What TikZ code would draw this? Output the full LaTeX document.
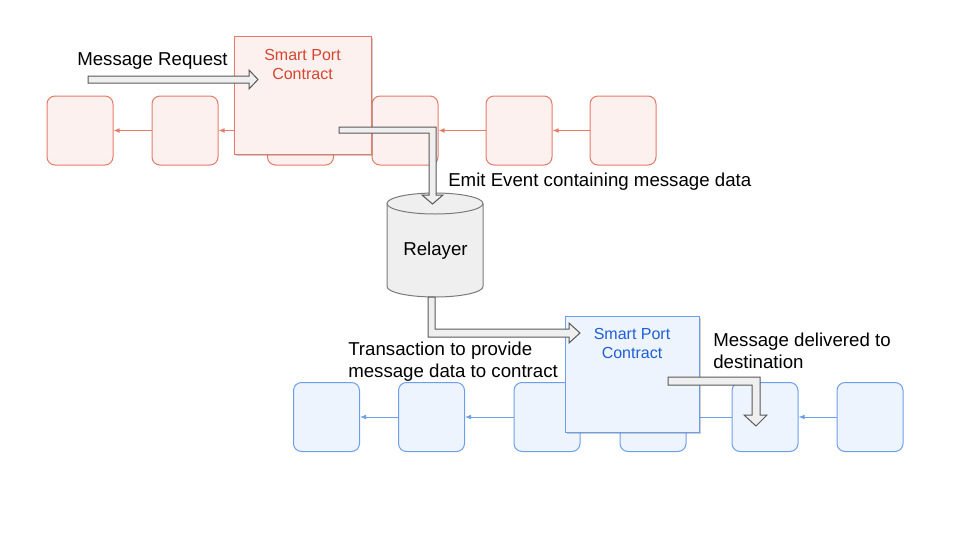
\documentclass[tikz,border=0pt]{standalone}
\usepackage{fontspec}
\setmainfont{Liberation Sans}
\usetikzlibrary{arrows.meta,shadows}
\definecolor{redline}{HTML}{E57A68}
\definecolor{redfill}{HTML}{FDF1F0}
\definecolor{redtext}{HTML}{D6452F}
\definecolor{blueline}{HTML}{6D9EEB}
\definecolor{bluefill}{HTML}{EEF4FD}
\definecolor{bluetext}{HTML}{1F5FD6}
\definecolor{fatfill}{HTML}{EFEFEF}
\definecolor{fatline}{HTML}{595959}
\begin{document}
\begin{tikzpicture}[x=0.75pt,y=-0.75pt,
    block/.style={rounded corners=6pt,line width=0.75pt,minimum width=49.5pt,minimum height=51.75pt,inner sep=0pt},
    redblk/.style={block,draw=redline,fill=redfill},
    blueblk/.style={block,draw=blueline,fill=bluefill},
    link/.style={line width=0.6pt,-{Latex[length=4.5pt,width=3.5pt]}},
    contract/.style={line width=0.75pt,inner sep=0pt,drop shadow={opacity=0.4,shadow xshift=1.5pt,shadow yshift=-1.5pt}},
    ctext/.style={font=\fontsize{12}{14}\selectfont,align=center,anchor=north,inner sep=0pt},
    lbl/.style={font=\fontsize{14}{16.3}\selectfont,align=left,inner sep=0pt},
    fat/.style={draw=fatline,fill=fatfill,line width=0.75pt,line join=miter}]
    \useasboundingbox (0,0) rectangle (960,540);
    % source chain
    \foreach \x [count=\i] in {80,185,300.5,405,519,623}
        \node[redblk] (r\i) at (\x,130.5) {};
    \foreach \i/\j in {2/1,3/2,4/3,5/4,6/5}
        \draw[link,redline] (r\i) -- (r\j);
    % destination chain
    \foreach \x [count=\i] in {326.5,431.5,547,653,765,870}
        \node[blueblk] (b\i) at (\x,417) {};
    \foreach \i/\j in {2/1,3/2,4/3,5/4,6/5}
        \draw[link,blueline] (b\i) -- (b\j);
    % contracts
    \node[contract,draw=redline,fill=redfill,minimum width=102.75pt,minimum height=88.5pt] (redsc) at (302.5,95) {};
    \node[ctext,text=redtext] (redlbl) at (302.5,49) {Smart Port\\Contract};
    \node[contract,draw=blueline,fill=bluefill,minimum width=100.5pt,minimum height=87pt] (bluesc) at (632,374) {};
    \node[ctext,text=bluetext] (bluelbl) at (632,328.5) {Smart Port\\Contract};
    % relayer
    \draw[draw=fatline!80,fill=fatfill,line width=0.75pt] (387,203.5) -- (387,286.5)
        arc[start angle=180,end angle=0,x radius=48,y radius=10.5] -- (483,203.5)
        arc[start angle=0,end angle=-180,x radius=48,y radius=10.5] -- cycle;
    \draw[draw=fatline!80,line width=0.75pt] (387,203.5) arc[start angle=180,end angle=0,x radius=48,y radius=10.5];
    \node[lbl] (relayer) at (435.5,251) {Relayer};
    % fat arrows
    \draw[fat] (88,76) -- (249,76) -- (249,70) -- (258,79.5) -- (249,89) -- (249,83) -- (88,83) -- cycle;
    \draw[fat] (339,127) -- (436,127) -- (436,195) -- (443,195) -- (432.5,204) -- (422,195) -- (429,195) -- (429,133) -- (339,133) -- cycle;
    \draw[fat] (428,297) -- (435,297) -- (435,329) -- (569,329) -- (569,323) -- (580,333) -- (569,343) -- (569,337) -- (428,337) -- cycle;
    \draw[fat] (668,377) -- (760,377) -- (760,415) -- (767,415) -- (756,426) -- (744,415) -- (752,415) -- (752,385) -- (668,385) -- cycle;
    % labels
    \node[lbl,anchor=base west] (msgreq) at (77,65) {Message Request};
    \node[lbl,anchor=base west] (emit) at (448,186) {Emit Event containing message data};
    \node[lbl,anchor=north west] (txn) at (348,341.5) {Transaction to provide\\message data to contract};
    \node[lbl,anchor=north west] (dlv) at (713,333) {Message delivered to\\destination};
\end{tikzpicture}
\end{document}
